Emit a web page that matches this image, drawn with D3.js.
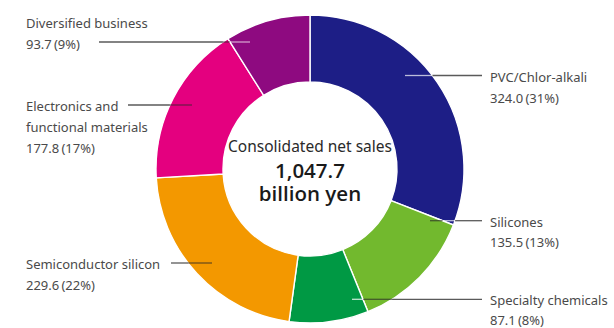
<!DOCTYPE html>
<html>
<head>
<meta charset="utf-8">
<script src="https://cdn.jsdelivr.net/npm/d3@7"></script>
<style>
  html, body { margin: 0; padding: 0; background: #fff; }
  svg { display: block; }
  text { font-family: "Noto Sans", "Open Sans", sans-serif; }
</style>
</head>
<body>
<svg id="chart" width="614" height="328"></svg>
<script>
// Net sales by segment (billion yen), clockwise from 12 o'clock
const segments = ["PVC/Chlor-alkali", "Silicones", "Specialty chemicals",
                  "Semiconductor silicon", "Electronics and functional materials", "Diversified business"];
const sales    = [324.0, 135.5, 87.1, 229.6, 177.8, 93.7];
const shares   = [31, 13, 8, 22, 17, 9];
const labelLines = [["PVC/Chlor-alkali"], ["Silicones"], ["Specialty chemicals"],
                    ["Semiconductor silicon"], ["Electronics and", "functional materials"], ["Diversified business"]];
const totalLabel = "1,047.7";

const colors = ["#1d1e86", "#72b92e", "#009944", "#f39800", "#e4007f", "#8e0a80"];
// tone of a leader line where it runs over each slice
const leaderOver = ["rgba(255,255,255,0.7)", "rgba(40,40,40,0.65)", "rgba(255,255,255,0.75)",
                    "rgba(40,40,40,0.65)", "rgba(40,40,40,0.6)", "rgba(255,255,255,0.6)"];

// label layout: leader y, inner end x, outer end x, text anchor x, first baseline
const layout = [
  { side: "right", y: 75.5, inner: 405, outer: 482, tx: 490, ty: 82 },
  { side: "right", y: 220.7, inner: 430, outer: 482, tx: 490, ty: 226.5 },
  { side: "right", y: 299.3, inner: 352, outer: 482, tx: 490, ty: 304.5 },
  { side: "left",  y: 263, inner: 212, outer: 171, tx: 26, ty: 269 },
  { side: "left",  y: 105, inner: 192, outer: 128, tx: 26, ty: 111 },
  { side: "left",  y: 42,  inner: 250, outer: 99,  tx: 26, ty: 28 }
];

const cx = 310, cy = 169, R = 154, r = 87, lineGap = 20.8;

const svg = d3.select("#chart");
const g = svg.append("g").attr("transform", `translate(${cx},${cy})`);

const pie = d3.pie().sort(null).value(d => d)(sales);
const arc = d3.arc().innerRadius(r).outerRadius(R);

g.selectAll("path.slice")
  .data(pie)
  .join("path")
  .attr("class", "slice")
  .attr("d", arc)
  .attr("fill", (d, i) => colors[i])
  .attr("stroke", "#fff")
  .attr("stroke-width", 1.4);

// which slice a point (relative to centre) lies in
function sliceAt(x, y) {
  let a = Math.atan2(x, -y);
  if (a < 0) a += 2 * Math.PI;
  return pie.findIndex(p => a >= p.startAngle && a < p.endAngle);
}

// leader lines: grey outside the ring, tinted per slice where it crosses the ring
layout.forEach((L, i) => {
  const dy = L.y - cy;
  const dx = Math.sqrt(R * R - dy * dy);
  const edge = L.side === "right" ? cx + dx : cx - dx;
  svg.append("line")
    .attr("x1", L.outer).attr("x2", edge)
    .attr("y1", L.y).attr("y2", L.y)
    .attr("stroke", "#5a5a5a").attr("stroke-width", 1.3);

  // split the in-ring part at slice boundaries
  const dir = L.inner > edge ? 1 : -1;
  const runs = [];
  for (let x = edge; dir > 0 ? x < L.inner : x > L.inner; x += dir * 0.5) {
    const s = sliceAt(x + dir * 0.25 - cx, dy);
    if (!runs.length || runs[runs.length - 1].s !== s) runs.push({ s, x0: x, x1: x });
    runs[runs.length - 1].x1 = Math.abs(x + dir * 0.5 - edge) > Math.abs(L.inner - edge) ? L.inner : x + dir * 0.5;
  }
  runs.forEach(run => {
    svg.append("line")
      .attr("x1", run.x0).attr("x2", run.x1)
      .attr("y1", L.y).attr("y2", L.y)
      .attr("stroke", leaderOver[run.s] || "#5a5a5a").attr("stroke-width", 1.3);
  });

  const t = svg.append("text")
    .attr("x", L.tx).attr("y", L.ty)
    .attr("fill", "#4a4a4a")
    .attr("font-size", 13);
  const lines = labelLines[i].concat([`${sales[i].toFixed(1)}\u2009(${shares[i]}%)`]);
  lines.forEach((s, k) => {
    t.append("tspan").attr("x", L.tx).attr("y", L.ty + k * lineGap).text(s);
  });
});

// centre caption
g.append("text").attr("text-anchor", "middle").attr("y", -17)
  .attr("font-size", 15.5).attr("fill", "#2a2a2a").text("Consolidated net sales");
g.append("text").attr("text-anchor", "middle").attr("y", 8.5)
  .style("font-family", "'Open Sans', 'Noto Sans', sans-serif")
  .attr("font-size", 20.5).attr("font-weight", 600).attr("fill", "#1a1a1a").text(totalLabel);
g.append("text").attr("text-anchor", "middle").attr("y", 31.5)
  .style("font-family", "'Open Sans', 'Noto Sans', sans-serif")
  .attr("font-size", 20.5).attr("font-weight", 600).attr("fill", "#1a1a1a").text("billion yen");
</script>
</body>
</html>
